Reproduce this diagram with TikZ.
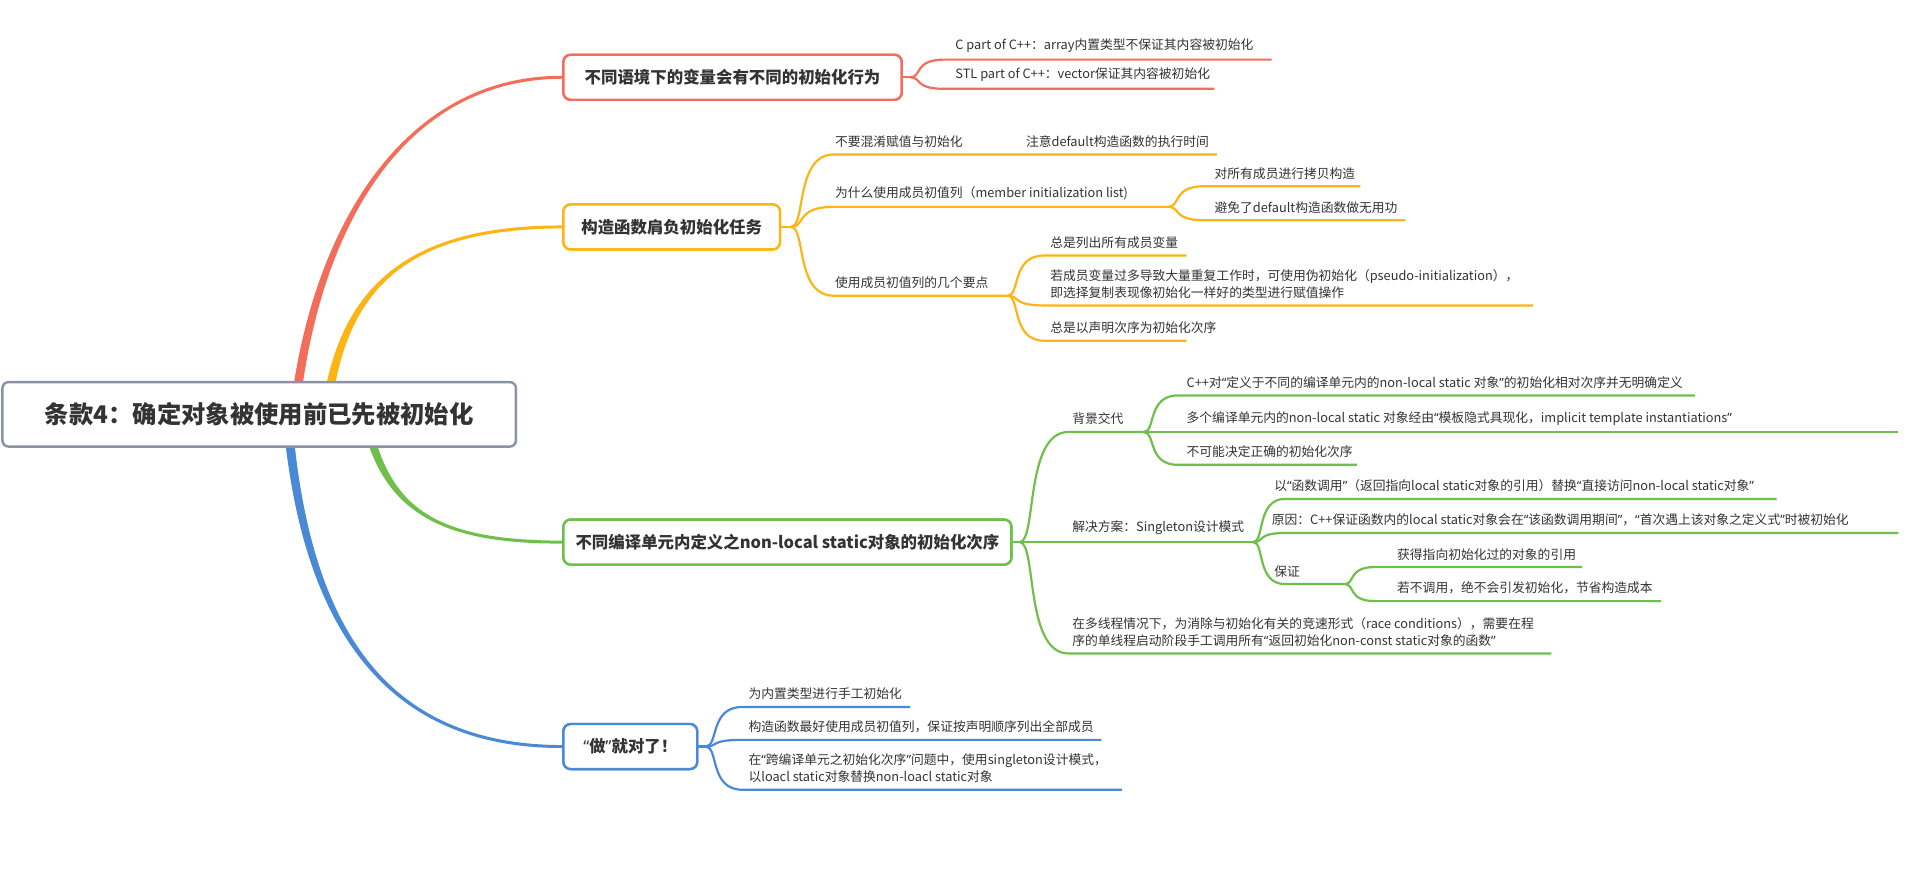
\documentclass[tikz,border=0pt]{standalone}
\usepackage{fontspec}
\setmainfont{Noto Sans CJK SC}
\newfontfamily\qfont{Noto Sans}
\newcommand\oq{{\qfont “}}
\newcommand\cq{{\qfont ”}}
\usetikzlibrary{calc}
\definecolor{cR}{HTML}{F36E5A}
\definecolor{cO}{HTML}{FDB515}
\definecolor{cG}{HTML}{6FBF4B}
\definecolor{cB}{HTML}{4A89D6}
\definecolor{cRoot}{HTML}{8A93A6}
\definecolor{txt}{HTML}{333333}
% tapered main branches
\newcommand\taperup[5]{\fill[#1] ($(#2)+(-3.8,0)$) .. controls ($(#3)+(-3.2,0)$) and ($(#4)+(0,-1.6)$) .. ($(#5)+(0,-1.2)$) -- ($(#5)+(0,1.2)$) .. controls ($(#4)+(0,1.6)$) and ($(#3)+(3.2,0)$) .. ($(#2)+(3.8,0)$) -- cycle;}
\newcommand\taperdown[5]{\fill[#1] ($(#2)+(-3.8,0)$) .. controls ($(#3)+(-3.2,0)$) and ($(#4)+(0,1.6)$) .. ($(#5)+(0,1.2)$) -- ($(#5)+(0,-1.2)$) .. controls ($(#4)+(0,-1.6)$) and ($(#3)+(3.2,0)$) .. ($(#2)+(3.8,0)$) -- cycle;}
% child connector: colour, hub, dx, child y, end x
\newcommand\kid[5]{\draw[#1,kidline] (#2) .. controls ($(#2)+({0.35*#3},0)$) and ($(#2 |- 0,#4)+({0.1*#3},0)$) .. ($(#2 |- 0,#4)+(#3,0)$) -- (#5,#4);}
\begin{document}
\begin{tikzpicture}[x=1pt,y=-1pt,
  kidline/.style={line width=1.8pt},
  kidtext/.style={anchor=south west, inner sep=0pt, text=txt, font=\fontsize{10.5}{14}\selectfont, align=left},
  bnode/.style={draw=#1, line width=2pt, rounded corners=6pt, fill=white, inner xsep=10pt, minimum height=37pt, anchor=west, text=txt, font=\fontsize{13.5}{16}\selectfont\bfseries}]
\fill[white] (0,0) rectangle (1568,720);
\useasboundingbox (0,0) rectangle (1568,720);

% ---------- main branches ----------
\coordinate (s1) at (242,340);
\coordinate (s2) at (268,340);
\coordinate (s3) at (300,340);
\coordinate (s4) at (236,340);
\node[bnode=cR, minimum width=278pt] (b1) at (462,63.5) {不同语境下的变量会有不同的初始化行为};
\node[bnode=cO, minimum width=178pt] (b2) at (462,186.5) {构造函数肩负初始化任务};
\node[bnode=cG, minimum width=346pt] (b3) at (462,445.5) {不同编译单元内定义之non-local static对象的初始化次序};
\node[bnode=cB, minimum width=110pt] (b4) at (462,613.5) {\oq{}做\cq{}就对了！};
\taperup{cR}{s1}{258,190}{330,63.5}{b1.west}
\taperup{cO}{s2}{280,240}{330,186.5}{b2.west}
\taperdown{cG}{s3}{315,420}{360,445.5}{b3.west}
\taperdown{cB}{s4}{250,520}{320,613.5}{b4.west}
\node[draw=cRoot, line width=2pt, rounded corners=5pt, fill=white, minimum width=422pt, minimum height=53pt, text=txt, font=\fontsize{20}{22}\selectfont\bfseries] (root) at (213,340.5) {条款4：确定对象被使用前已先被初始化};
% redraw branch nodes on top of the branch ends
\node[bnode=cR, minimum width=278pt] at (462,63.5) {不同语境下的变量会有不同的初始化行为};
\node[bnode=cO, minimum width=178pt] at (462,186.5) {构造函数肩负初始化任务};
\node[bnode=cG, minimum width=346pt] at (462,445.5) {不同编译单元内定义之non-local static对象的初始化次序};
\node[bnode=cB, minimum width=110pt] at (462,613.5) {\oq{}做\cq{}就对了！};

% ---------- red ----------
\coordinate (hR) at ($(b1.east)+(6,0)$);
\draw[cR,kidline] (b1.east) -- (hR);
\kid{cR}{hR}{28}{49}{1045}
\kid{cR}{hR}{28}{73}{998}
\node[kidtext] (r1) at (785,43.5) {C part of C++：array内置类型不保证其内容被初始化};
\node[kidtext] (r2) at (785,67.5) {STL part of C++：vector保证其内容被初始化};

% ---------- orange ----------
\coordinate (hO) at ($(b2.east)+(8,0)$);
\draw[cO,kidline] (b2.east) -- (hO);
\kid{cO}{hO}{35}{127}{1000}
\kid{cO}{hO}{35}{170}{960}
\kid{cO}{hO}{35}{243}{828}
\node[kidtext] (o1) at (686,121.5) {不要混淆赋值与初始化};
\node[kidtext] (o11) at (843,121.5) {注意default构造函数的执行时间};
\node[kidtext] (o2) at (686,164.5) {为什么使用成员初值列（member initialization list)};
\coordinate (hO2) at (960,170);
\kid{cO}{hO2}{30}{153}{1118}
\kid{cO}{hO2}{30}{181}{1155}
\node[kidtext] (o21) at (998,147.5) {对所有成员进行拷贝构造};
\node[kidtext] (o22) at (998,175.5) {避免了default构造函数做无用功};
\node[kidtext] (o3) at (686,237.5) {使用成员初值列的几个要点};
\coordinate (hO3) at (828,243);
\kid{cO}{hO3}{30}{210}{975}
\kid{cO}{hO3}{30}{251}{1260}
\kid{cO}{hO3}{30}{280}{975}
\node[kidtext] (o31) at (863,204.5) {总是列出所有成员变量};
\node[kidtext] (o32) at (863,245.5) {若成员变量过多导致大量重复工作时，可使用伪初始化（pseudo-initialization），\\即选择复制表现像初始化一样好的类型进行赋值操作};
\node[kidtext] (o33) at (863,274.5) {总是以声明次序为初始化次序};

% ---------- green ----------
\coordinate (hG) at (838,445.5);
\draw[cG,kidline] (b3.east) -- (hG);
\kid{cG}{hG}{40}{355}{940}
\kid{cG}{hG}{40}{445.5}{1030}
\kid{cG}{hG}{40}{537}{1275}
\node[kidtext] (g1) at (881,349.5) {背景交代};
\coordinate (hG1) at (940,355);
\kid{cG}{hG1}{28}{325}{1393}
\kid{cG}{hG1}{28}{355}{1560}
\kid{cG}{hG1}{28}{382}{1115}
\node[kidtext] (g11) at (975,319.5) {C++对\oq{}定义于不同的编译单元内的non-local static 对象\cq{}的初始化相对次序并无明确定义};
\node[kidtext] (g12) at (975,349.5) {多个编译单元内的non-local static 对象经由\oq{}模板隐式具现化，implicit template instantiations\cq{}};
\node[kidtext] (g13) at (975,376.5) {不可能决定正确的初始化次序};
\node[kidtext] (g2) at (881,440) {解决方案：Singleton设计模式};
\coordinate (hG2) at (1030,445.5);
\kid{cG}{hG2}{26}{410}{1460}
\kid{cG}{hG2}{26}{438}{1560}
\kid{cG}{hG2}{26}{480}{1105}
\node[kidtext] (g21) at (1047,404.5) {以\oq{}函数调用\cq{}（返回指向local static对象的引用）替换\oq{}直接访问non-local static对象\cq{}};
\node[kidtext] (g22) at (1045,432.5) {原因：C++保证函数内的local static对象会在\oq{}该函数调用期间\cq{}，\oq{}首次遇上该对象之定义式\cq{}时被初始化};
\node[kidtext] (g23) at (1047,474.5) {保证};
\coordinate (hG3) at (1105,480);
\kid{cG}{hG3}{25}{466}{1300}
\kid{cG}{hG3}{25}{494}{1365}
\node[kidtext] (g231) at (1148,460.5) {获得指向初始化过的对象的引用};
\node[kidtext] (g232) at (1148,488.5) {若不调用，绝不会引发初始化，节省构造成本};
\node[kidtext] (g3) at (881,531.5) {在多线程情况下，为消除与初始化有关的竞速形式（race conditions），需要在程\\序的单线程启动阶段手工调用所有\oq{}返回初始化non-const static对象的函数\cq{}};

% ---------- blue ----------
\coordinate (hB) at ($(b4.east)+(6,0)$);
\draw[cB,kidline] (b4.east) -- (hB);
\kid{cB}{hB}{30}{581}{748}
\kid{cB}{hB}{30}{608}{905}
\kid{cB}{hB}{30}{649}{922}
\node[kidtext] (u1) at (615,575.5) {为内置类型进行手工初始化};
\node[kidtext] (u2) at (615,602.5) {构造函数最好使用成员初值列，保证按声明顺序列出全部成员};
\node[kidtext] (u3) at (615,643.5) {在\oq{}跨编译单元之初始化次序\cq{}问题中，使用singleton设计模式，\\以loacl static对象替换non-loacl static对象};
\end{tikzpicture}
\end{document}
